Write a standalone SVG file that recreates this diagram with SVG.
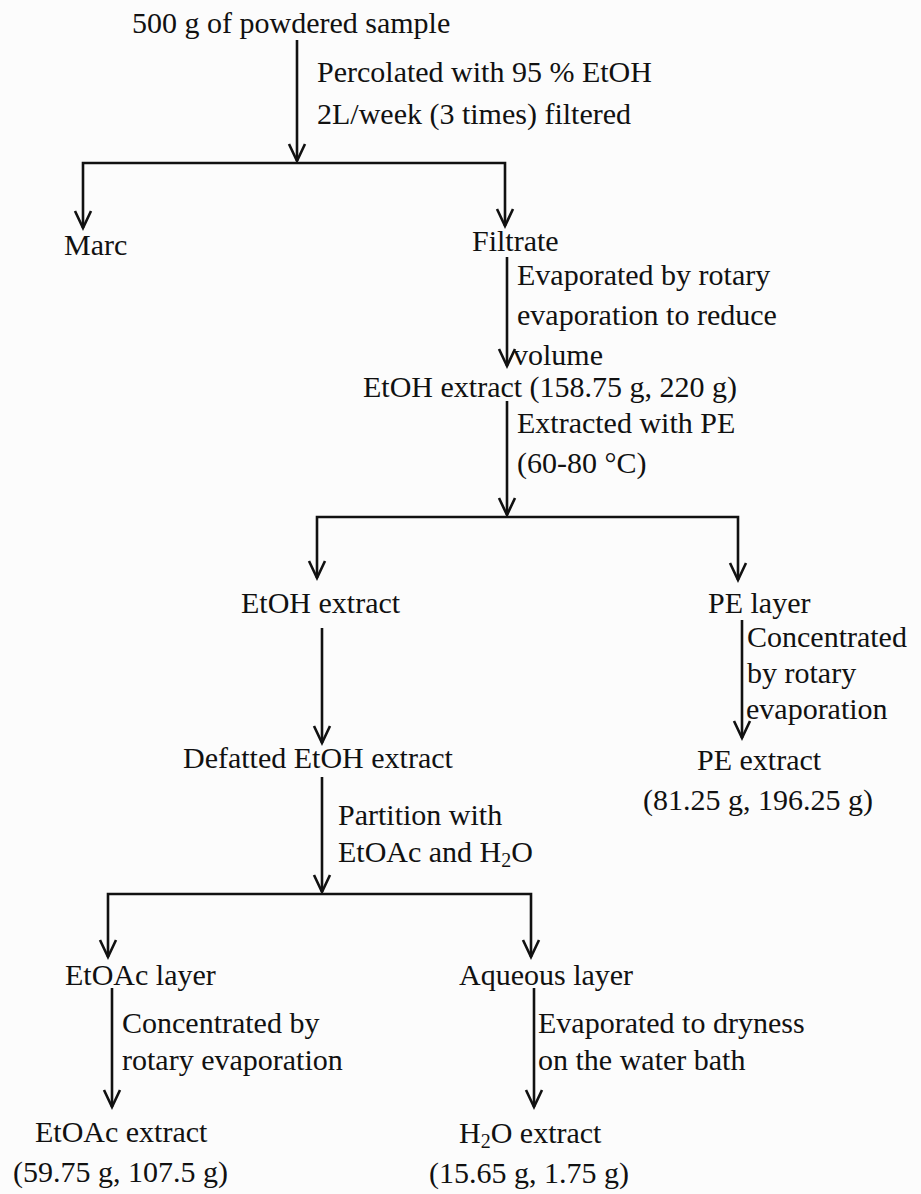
<svg xmlns="http://www.w3.org/2000/svg" width="921" height="1194" viewBox="0 0 921 1194">
<style>
text{font-family:"Liberation Serif","Times New Roman",serif;font-size:30px;fill:#111}
.c{fill:none;stroke:#111;stroke-width:2.6;marker-end:url(#ah)}
.b{fill:none;stroke:#111;stroke-width:2.6}
</style>
<defs>
<marker id="ah" markerUnits="userSpaceOnUse" viewBox="-20 -10 22 20" refX="0" refY="0" markerWidth="22" markerHeight="20" orient="auto" overflow="visible">
<path d="M-17,-8 L0,0 L-17,8" fill="none" stroke="#111" stroke-width="2.6" stroke-linejoin="miter"/>
</marker>
</defs>
<rect width="921" height="1194" fill="#fcfcfc"/>
<g id="connectors">
<path class="c" d="M297,40 V161"/>
<path class="c" d="M297,163 H83 V228"/>
<path class="c" d="M297,163 H505 V226"/>
<path class="c" d="M507,257 V366"/>
<path class="c" d="M507,401 V515"/>
<path class="c" d="M507,517 H317 V578"/>
<path class="c" d="M507,517 H738 V580"/>
<path class="c" d="M742,620 V738"/>
<path class="c" d="M322,628 V743"/>
<path class="c" d="M322,777 V892"/>
<path class="c" d="M322,894 H108 V957"/>
<path class="c" d="M322,894 H531 V957"/>
<path class="c" d="M112,988 V1107"/>
<path class="c" d="M534,988 V1107"/>
<g id="edge-labels">
<text x="317" y="82">Percolated with 95 % EtOH</text>
<text x="317" y="124">2L/week (3 times) filtered</text>
<text x="517" y="285">Evaporated by rotary</text>
<text x="517" y="325">evaporation to reduce</text>
<text x="513" y="365">volume</text>
<text x="517" y="433">Extracted with PE</text>
<text x="517" y="473">(60-80 °C)</text>
<text x="747" y="647">Concentrated</text>
<text x="747" y="683">by rotary</text>
<text x="746" y="719">evaporation</text>
<text x="338" y="825">Partition with</text>
<text x="338" y="862">EtOAc and H<tspan font-size="20" dy="5">2</tspan><tspan dy="-5">O</tspan></text>
<text x="122" y="1033">Concentrated by</text>
<text x="122" y="1070">rotary evaporation</text>
<text x="538" y="1033">Evaporated to dryness</text>
<text x="538" y="1070">on the water bath</text>
</g>
</g>
<g id="n-sample"><text x="132" y="33">500 g of powdered sample</text></g>
<g id="n-marc"><text x="64" y="255">Marc</text></g>
<g id="n-filtrate"><text x="472" y="251">Filtrate</text></g>
<g id="n-etoh-extract"><text x="363" y="397">EtOH extract (158.75 g, 220 g)</text></g>
<g id="n-etoh-extract-2"><text x="241" y="613">EtOH extract</text></g>
<g id="n-pe-layer"><text x="708" y="613">PE layer</text></g>
<g id="n-defatted"><text x="183" y="768">Defatted EtOH extract</text></g>
<g id="n-pe-extract"><text x="697" y="770">PE extract</text><text x="643" y="810">(81.25 g, 196.25 g)</text></g>
<g id="n-etoac-layer"><text x="65" y="985">EtOAc layer</text></g>
<g id="n-aqueous-layer"><text x="459" y="985">Aqueous layer</text></g>
<g id="n-etoac-extract"><text x="35" y="1142">EtOAc extract</text><text x="13" y="1182">(59.75 g, 107.5 g)</text></g>
<g id="n-h2o-extract"><text x="459" y="1143">H<tspan font-size="20" dy="5">2</tspan><tspan dy="-5">O extract</tspan></text><text x="429" y="1183">(15.65 g, 1.75 g)</text></g>
</svg>
